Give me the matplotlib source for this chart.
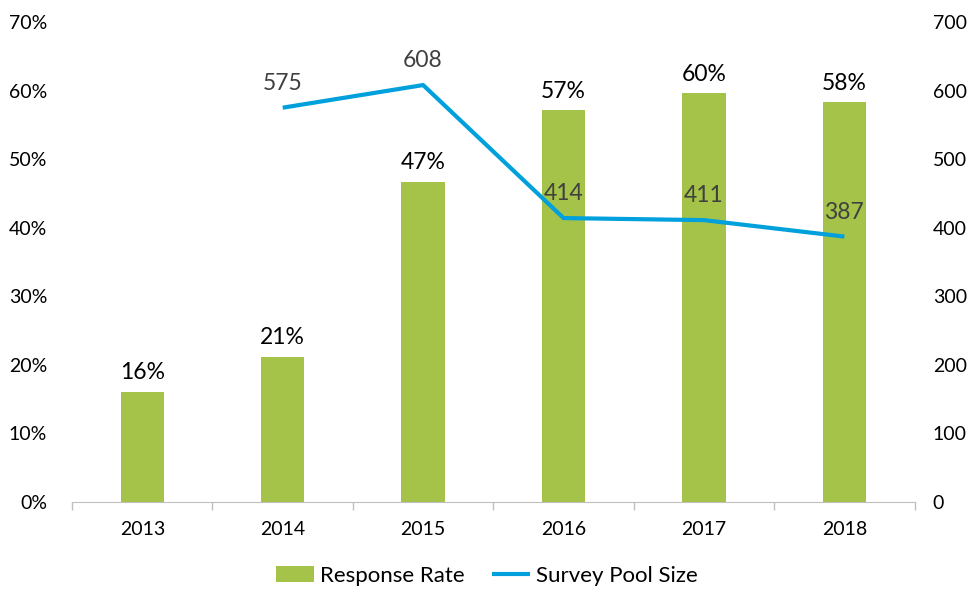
import matplotlib.pyplot as plt
import numpy as np

years = ['2013', '2014', '2015', '2016', '2017', '2018']
response_rate = [16.1, 21.2, 46.7, 57.1, 59.6, 58.3]
rate_labels = ['16%', '21%', '47%', '57%', '60%', '58%']
pool_years = ['2014', '2015', '2016', '2017', '2018']
pool_size = [575, 608, 414, 411, 387]

plt.rcParams['font.family'] = ['Lato', 'DejaVu Sans']

fig = plt.figure(figsize=(9.74, 5.94), dpi=100)
ax = fig.add_axes([0.074, 0.155, 0.865, 0.808])
ax2 = ax.twinx()

x = np.arange(len(years))
bars = ax.bar(x, response_rate, width=0.31, color='#A5C249', label='Response Rate', zorder=2)
for xi, v, lab in zip(x, response_rate, rate_labels):
    ax.annotate(lab, (xi, v), xytext=(0, 6), textcoords='offset points',
                ha='center', va='bottom', fontsize=16.5, color='black')

px = [years.index(y) for y in pool_years]
line, = ax2.plot(px, pool_size, color='#00A0DC', lw=3, label='Survey Pool Size',
                 solid_capstyle='butt', zorder=3)
for xi, v in zip(px, pool_size):
    ax2.annotate(str(v), (xi, v), xytext=(0, 10), textcoords='offset points',
                 ha='center', va='bottom', fontsize=16.5, color='#404040')

ax.set_xlim(-0.5, len(years) - 0.5)
ax.set_ylim(0, 70)
ax.set_yticks(np.arange(0, 71, 10))
ax.set_yticklabels([f'{t}%' for t in range(0, 71, 10)])
ax2.set_ylim(0, 700)
ax2.set_yticks(np.arange(0, 701, 100))

ax.set_xticks(x)
ax.set_xticklabels(years)
ax.set_xticks(np.arange(-0.5, len(years)), minor=True)
ax.tick_params(axis='x', which='major', length=0, pad=14, labelsize=14)
ax.tick_params(axis='x', which='minor', length=6, color='#BFBFBF', width=1)
ax.tick_params(axis='y', length=0, pad=18, labelsize=14)
ax2.tick_params(axis='y', length=0, pad=13, labelsize=14)

for a in (ax, ax2):
    for s in ('top', 'left', 'right'):
        a.spines[s].set_visible(False)
ax.spines['bottom'].set_color('#BFBFBF')
ax2.spines['bottom'].set_visible(False)

fig.legend([bars, line], ['Response Rate', 'Survey Pool Size'], loc='lower center',
           bbox_to_anchor=(0.5, -0.02), ncol=2, frameon=False, fontsize=16,
           handlelength=1.7, handletextpad=0.3, columnspacing=1.2)

fig.savefig('out.png', dpi=100)
